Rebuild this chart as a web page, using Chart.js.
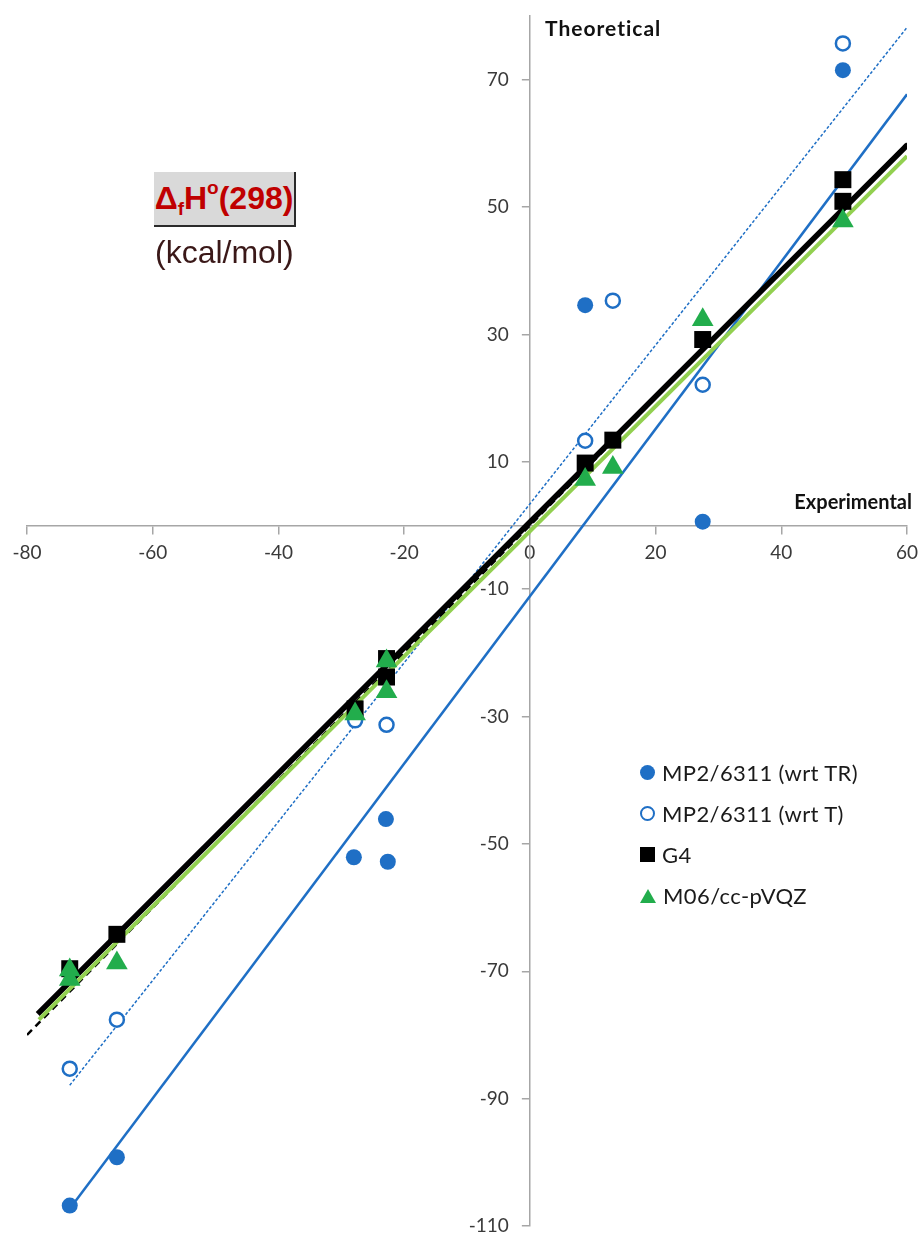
<!DOCTYPE html>
<html>
<head>
<meta charset="utf-8">
<script src="https://cdn.jsdelivr.net/npm/chart.js@4.4.0/dist/chart.umd.min.js"></script>
<style>
  body { margin: 0; background: #fff; overflow: hidden; }
  #wrap { position: relative; width: 920px; height: 1233px; }
  .note { position: absolute; white-space: nowrap; }
  #titleBox {
    left: 154px; top: 172px; width: 140px; height: 53px;
    background: #d9d9d9; border-right: 2px solid #2a2a2a; border-bottom: 2px solid #2a2a2a;
    font: bold 32px "Liberation Sans", Arial, sans-serif; color: #c00000;
    line-height: 53px; text-align: center;
  }
  #titleBox sub { font-size: 19px; vertical-align: -6px; line-height: 0; }
  #titleBox sup { font-size: 19px; vertical-align: 15px; line-height: 0; }
  #units { left: 155px; top: 234px; font: 32px "Liberation Sans", Arial, sans-serif; color: #3a1818; }
  #yTitle { left: 545px; top: 15px; font: bold 21px Lato, sans-serif; letter-spacing: 1px; color: #111; }
  #xTitle { right: 8px; top: 489px; font: bold 20px Lato, sans-serif; color: #111; }
  #legend { left: 640px; top: 752px; font: 22px Lato, sans-serif; letter-spacing: 0.4px; color: #1a1a1a; }
  #legend div { height: 41px; display: flex; align-items: center; }
  #legend i { display: inline-block; width: 16px; margin-right: 7px; box-sizing: border-box; }
</style>
</head>
<body>
<div id="wrap">
  <canvas id="chart"></canvas>
  <div class="note" id="titleBox">&Delta;<sub>f</sub>H<sup>o</sup>(298)</div>
  <div class="note" id="units">(kcal/mol)</div>
  <div class="note" id="yTitle">Theoretical</div>
  <div class="note" id="xTitle">Experimental</div>
  <div class="note" id="legend"></div>
</div>
<script>
// axis ticks
const xTicks = [-80, -60, -40, -20, 0, 20, 40, 60];
const yTicks = [-110, -90, -70, -50, -30, -10, 10, 30, 50, 70];

// experimental (x) vs theoretical (y), kcal/mol
const mp2TRx = [-73.2, -65.7, -28.0, -22.9, -22.6, 8.8, 27.5, 49.8];
const mp2TRy = [-106.8, -99.2, -52.1, -46.1, -52.8, 34.6, 0.6, 71.5];
const mp2Tx = [-73.2, -65.7, -27.8, -22.8, 8.8, 13.2, 27.5, 49.8];
const mp2Ty = [-85.3, -77.6, -30.6, -31.3, 13.3, 35.3, 22.1, 75.7];
const g4x = [-73.2, -65.7, -27.8, -22.8, -22.8, 8.8, 13.2, 27.5, 49.8, 49.8];
const g4y = [-69.6, -64.2, -28.8, -20.9, -23.8, 9.8, 13.4, 29.2, 54.3, 50.9];
const m06x = [-73.2, -73.2, -65.7, -27.8, -22.8, -22.8, 8.8, 13.2, 27.5, 49.8];
const m06y = [-69.8, -71.3, -68.7, -29.6, -21.3, -26.1, 7.2, 9.1, 32.3, 47.8];

// trendline end points
const fitTRx = [-73.2, 60], fitTRy = [-107.3, 67.7];
const fitTx = [-73.2, 60], fitTy = [-87.9, 78.2];
const fitG4x = [-78.3, 60], fitG4y = [-76.7, 59.7];
const fitM06x = [-78.1, 60], fitM06y = [-77.6, 58.0];
const idealX = [-80, 60], idealY = [-80, 60];

const blue = '#1f6fc5';
const green = '#22ad4c';
const lime = '#92d050';

function pts(xs, ys) {
  return xs.map((x, i) => ({x: x, y: ys[i]}));
}

function noPadding(s) {
  s.paddingLeft = 0;
  s.paddingRight = 0;
  s.paddingTop = 0;
  s.paddingBottom = 0;
}

// move the left-positioned y axis so it sits on x = 0
const yAxisAtZero = {
  id: 'yAxisAtZero',
  afterLayout(chart) {
    const y = chart.scales.y;
    const x0 = chart.scales.x.getPixelForValue(0);
    y.left = x0 - 90;
    y.right = x0;
    y.width = 90;
  }
};

const ctx = document.getElementById('chart').getContext('2d');
const chart = new Chart(ctx, {
  type: 'scatter',
  data: {
    datasets: [
      {label: 'MP2/6311 (wrt TR)', data: pts(mp2TRx, mp2TRy), pointStyle: 'circle', pointRadius: 8,
       backgroundColor: blue, borderColor: blue, borderWidth: 0, order: 3},
      {label: 'MP2/6311 (wrt T)', data: pts(mp2Tx, mp2Ty), pointStyle: 'circle', pointRadius: 7,
       backgroundColor: '#ffffff', borderColor: blue, borderWidth: 2.5, order: 2},
      {label: 'G4', data: pts(g4x, g4y), pointStyle: 'rect', pointRadius: 12,
       backgroundColor: '#000000', borderColor: '#000000', borderWidth: 0, order: 1},
      {label: 'M06/cc-pVQZ', data: pts(m06x, m06y), pointStyle: 'triangle', pointRadius: 12.5,
       backgroundColor: green, borderColor: green, borderWidth: 0, order: 0},
      {label: 'fit TR', data: pts(fitTRx, fitTRy), showLine: true, pointRadius: 0,
       borderColor: blue, borderWidth: 2.5, order: 10},
      {label: 'fit T', data: pts(fitTx, fitTy), showLine: true, pointRadius: 0,
       borderColor: blue, borderWidth: 1.5, borderDash: [3, 2], order: 10},
      {label: 'fit G4', data: pts(fitG4x, fitG4y), showLine: true, pointRadius: 0,
       borderColor: '#000000', borderWidth: 5.5, order: 9},
      {label: 'y = x', data: pts(idealX, idealY), showLine: true, pointRadius: 0,
       borderColor: '#000000', borderWidth: 2.5, borderDash: [7, 5], order: 8},
      {label: 'fit M06', data: pts(fitM06x, fitM06y), showLine: true, pointRadius: 0,
       borderColor: lime, borderWidth: 4, order: 7}
    ]
  },
  options: {
    responsive: true,
    maintainAspectRatio: false,
    animation: false,
    layout: { autoPadding: false, padding: {left: 27, right: 13, top: 16, bottom: 7} },
    plugins: { legend: {display: false}, tooltip: {enabled: false} },
    scales: {
      x: {
        type: 'linear', min: -80, max: 60, position: {y: 0},
        afterBuildTicks: s => { s.ticks = xTicks.map(v => ({value: v})); },
        afterFit: noPadding,
        grid: {drawOnChartArea: false, tickLength: 8, color: '#a6a6a6', lineWidth: 1.5},
        border: {color: '#a6a6a6', width: 1.5},
        ticks: {color: '#3a3a3a', padding: 8, maxRotation: 0, font: {family: 'Lato', size: 19}}
      },
      y: {
        type: 'linear', min: -110, max: 80, position: 'left',
        afterBuildTicks: s => { s.ticks = yTicks.map(v => ({value: v})); },
        afterFit: s => { noPadding(s); s.width = 0; },
        grid: {drawOnChartArea: false, tickLength: 8, color: '#a6a6a6', lineWidth: 1.5},
        border: {color: '#a6a6a6', width: 1.5},
        ticks: {color: '#3a3a3a', padding: 13, font: {family: 'Lato', size: 19}}
      }
    }
  },
  plugins: [yAxisAtZero]
});

// legend for the four marker series
const marks = [
  'width:15px;height:15px;border-radius:50%;background:' + blue,
  'width:15px;height:15px;border-radius:50%;border:2.5px solid ' + blue + ';background:#fff',
  'width:15px;height:15px;background:#000',
  'width:0;height:0;border-left:8px solid transparent;border-right:8px solid transparent;border-bottom:14px solid ' + green
];
const legend = document.getElementById('legend');
chart.data.datasets.slice(0, 4).forEach((ds, i) => {
  const row = document.createElement('div');
  row.innerHTML = '<i style="' + marks[i] + '"></i><span>' + ds.label + '</span>';
  legend.appendChild(row);
});
</script>
</body>
</html>
